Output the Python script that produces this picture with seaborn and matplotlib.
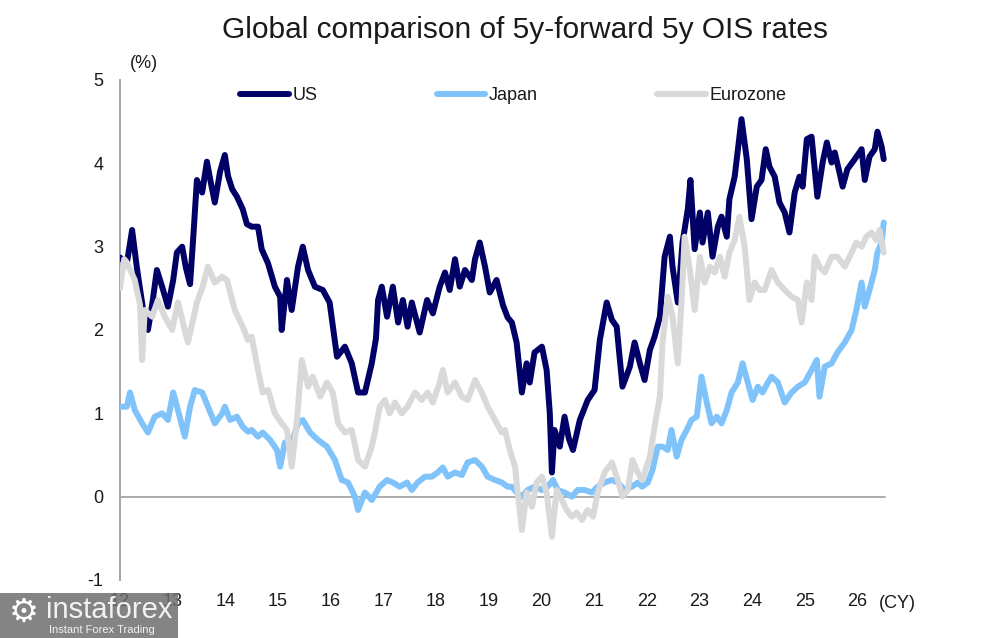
import matplotlib
matplotlib.use("Agg")
import matplotlib.pyplot as plt
import seaborn as sns
import pandas as pd
from matplotlib.patches import Rectangle

# ---------------- data ----------------
us_year = [2012.00, 2012.13, 2012.23, 2012.32, 2012.44, 2012.53, 2012.61, 2012.70, 2012.80, 2012.91,
           2013.01, 2013.08, 2013.18, 2013.25, 2013.33, 2013.40, 2013.46, 2013.56, 2013.65, 2013.73,
           2013.80, 2013.90, 2013.99, 2014.05, 2014.13, 2014.22, 2014.33, 2014.41, 2014.50, 2014.62,
           2014.69, 2014.81, 2014.94, 2015.04, 2015.07, 2015.17, 2015.26, 2015.38, 2015.47, 2015.57,
           2015.70, 2015.85, 2015.98, 2016.12, 2016.27, 2016.40, 2016.52, 2016.65, 2016.78, 2016.86,
           2016.90, 2016.97, 2017.07, 2017.18, 2017.28, 2017.37, 2017.46, 2017.54, 2017.69, 2017.83,
           2017.94, 2018.07, 2018.17, 2018.26, 2018.36, 2018.45, 2018.55, 2018.68, 2018.74, 2018.83,
           2018.93, 2019.02, 2019.15, 2019.27, 2019.36, 2019.44, 2019.53, 2019.63, 2019.72, 2019.78,
           2019.87, 2020.01, 2020.10, 2020.16, 2020.20, 2020.25, 2020.35, 2020.44, 2020.52, 2020.60,
           2020.73, 2020.88, 2021.01, 2021.11, 2021.24, 2021.34, 2021.43, 2021.54, 2021.68, 2021.77,
           2021.87, 2021.96, 2022.06, 2022.15, 2022.25, 2022.34, 2022.44, 2022.49, 2022.59, 2022.68,
           2022.78, 2022.83, 2022.91, 2023.01, 2023.06, 2023.16, 2023.25, 2023.35, 2023.42, 2023.52,
           2023.57, 2023.67, 2023.76, 2023.80, 2023.90, 2023.99, 2024.09, 2024.18, 2024.26, 2024.33,
           2024.43, 2024.52, 2024.62, 2024.71, 2024.81, 2024.90, 2024.96, 2025.04, 2025.13, 2025.19,
           2025.24, 2025.34, 2025.42, 2025.51, 2025.57, 2025.66, 2025.72, 2025.81, 2025.95, 2026.08,
           2026.14, 2026.23, 2026.33, 2026.38, 2026.46, 2026.50]
us_rate = [2.87, 2.80, 3.20, 2.75, 2.24, 2.00, 2.30, 2.72, 2.52, 2.28,
           2.60, 2.93, 3.00, 2.75, 2.55, 3.20, 3.80, 3.65, 4.02, 3.75,
           3.53, 3.90, 4.10, 3.85, 3.69, 3.60, 3.45, 3.27, 3.24, 3.24,
           2.97, 2.80, 2.52, 2.40, 2.00, 2.60, 2.24, 2.76, 3.00, 2.72,
           2.52, 2.48, 2.33, 1.68, 1.80, 1.60, 1.25, 1.25, 1.60, 1.90,
           2.36, 2.52, 2.16, 2.52, 2.09, 2.36, 2.04, 2.33, 1.97, 2.36,
           2.20, 2.52, 2.69, 2.48, 2.85, 2.52, 2.72, 2.60, 2.85, 3.05,
           2.76, 2.45, 2.60, 2.30, 2.15, 2.09, 1.85, 1.25, 1.60, 1.37,
           1.73, 1.80, 1.52, 1.00, 0.29, 0.80, 0.60, 0.96, 0.70, 0.56,
           0.92, 1.16, 1.28, 1.88, 2.33, 2.12, 2.04, 1.32, 1.56, 1.85,
           1.60, 1.40, 1.76, 1.92, 2.16, 2.88, 3.12, 2.76, 2.33, 3.05,
           3.45, 3.80, 2.97, 3.41, 3.05, 3.41, 2.88, 3.24, 3.36, 3.12,
           3.57, 3.84, 4.32, 4.53, 4.05, 3.33, 3.72, 3.80, 4.17, 3.96,
           3.84, 3.53, 3.41, 3.17, 3.65, 3.84, 3.72, 4.29, 4.32, 3.93,
           3.60, 4.01, 4.25, 4.01, 4.13, 3.89, 3.72, 3.93, 4.05, 4.17,
           3.80, 4.08, 4.17, 4.38, 4.20, 4.05]

jp_year = [2012.00, 2012.13, 2012.19, 2012.28, 2012.42, 2012.53, 2012.66, 2012.80, 2012.91, 2013.01,
           2013.10, 2013.23, 2013.33, 2013.42, 2013.56, 2013.67, 2013.80, 2013.94, 2013.99, 2014.09,
           2014.22, 2014.33, 2014.43, 2014.50, 2014.62, 2014.71, 2014.85, 2014.98, 2015.04, 2015.13,
           2015.26, 2015.38, 2015.47, 2015.61, 2015.76, 2015.93, 2016.08, 2016.21, 2016.33, 2016.46,
           2016.52, 2016.65, 2016.78, 2016.93, 2017.07, 2017.18, 2017.31, 2017.45, 2017.54, 2017.65,
           2017.79, 2017.92, 2018.03, 2018.13, 2018.22, 2018.36, 2018.49, 2018.60, 2018.74, 2018.87,
           2018.98, 2019.12, 2019.25, 2019.36, 2019.44, 2019.53, 2019.63, 2019.74, 2019.87, 2020.01,
           2020.12, 2020.22, 2020.31, 2020.44, 2020.58, 2020.69, 2020.82, 2020.96, 2021.07, 2021.20,
           2021.34, 2021.45, 2021.58, 2021.72, 2021.83, 2021.91, 2022.02, 2022.11, 2022.21, 2022.30,
           2022.40, 2022.47, 2022.57, 2022.66, 2022.76, 2022.85, 2022.95, 2023.04, 2023.14, 2023.23,
           2023.33, 2023.42, 2023.52, 2023.61, 2023.73, 2023.82, 2023.92, 2024.01, 2024.11, 2024.20,
           2024.30, 2024.37, 2024.49, 2024.62, 2024.75, 2024.87, 2025.00, 2025.13, 2025.23, 2025.28,
           2025.38, 2025.51, 2025.62, 2025.76, 2025.89, 2025.98, 2026.08, 2026.14, 2026.23, 2026.33,
           2026.38, 2026.46, 2026.50]
jp_rate = [1.08, 1.08, 1.25, 1.04, 0.88, 0.77, 0.96, 1.00, 0.92, 1.25,
           1.04, 0.72, 1.08, 1.28, 1.25, 1.08, 0.88, 1.00, 1.08, 0.92,
           0.96, 0.84, 0.78, 0.80, 0.72, 0.77, 0.68, 0.56, 0.36, 0.65,
           0.65, 0.88, 0.92, 0.77, 0.68, 0.60, 0.44, 0.20, 0.17, 0.00,
           -0.16, 0.05, -0.04, 0.12, 0.20, 0.17, 0.12, 0.17, 0.08, 0.17,
           0.24, 0.24, 0.29, 0.35, 0.24, 0.29, 0.26, 0.41, 0.44, 0.36,
           0.24, 0.20, 0.17, 0.12, 0.12, 0.05, 0.00, 0.08, 0.12, 0.08,
           0.12, 0.20, 0.08, 0.05, 0.00, 0.08, 0.08, 0.05, 0.12, 0.17,
           0.20, 0.17, 0.08, 0.12, 0.17, 0.12, 0.17, 0.32, 0.60, 0.60,
           0.56, 0.80, 0.48, 0.68, 0.80, 0.92, 0.96, 1.44, 1.13, 0.88,
           0.96, 0.88, 1.04, 1.25, 1.37, 1.60, 1.37, 1.16, 1.32, 1.25,
           1.37, 1.44, 1.37, 1.13, 1.25, 1.32, 1.37, 1.52, 1.64, 1.20,
           1.56, 1.60, 1.73, 1.85, 2.00, 2.24, 2.57, 2.28, 2.48, 2.72,
           2.93, 3.05, 3.29]

ez_year = [2012.00, 2012.08, 2012.13, 2012.28, 2012.38, 2012.42, 2012.47, 2012.61, 2012.72, 2012.85,
           2012.99, 2013.10, 2013.29, 2013.46, 2013.57, 2013.67, 2013.80, 2013.94, 2014.03, 2014.18,
           2014.33, 2014.43, 2014.50, 2014.62, 2014.71, 2014.81, 2014.94, 2015.07, 2015.17, 2015.26,
           2015.36, 2015.45, 2015.57, 2015.66, 2015.80, 2015.93, 2016.04, 2016.14, 2016.27, 2016.40,
           2016.52, 2016.65, 2016.78, 2016.84, 2016.93, 2017.03, 2017.12, 2017.22, 2017.35, 2017.46,
           2017.60, 2017.73, 2017.84, 2017.94, 2018.07, 2018.13, 2018.22, 2018.36, 2018.49, 2018.60,
           2018.74, 2018.87, 2018.98, 2019.12, 2019.25, 2019.31, 2019.40, 2019.50, 2019.55, 2019.63,
           2019.72, 2019.82, 2019.91, 2020.01, 2020.10, 2020.20, 2020.29, 2020.39, 2020.48, 2020.58,
           2020.67, 2020.77, 2020.88, 2020.98, 2021.07, 2021.20, 2021.34, 2021.45, 2021.54, 2021.64,
           2021.73, 2021.83, 2021.91, 2021.96, 2022.06, 2022.15, 2022.25, 2022.30, 2022.40, 2022.49,
           2022.59, 2022.66, 2022.72, 2022.82, 2022.91, 2023.01, 2023.10, 2023.20, 2023.29, 2023.39,
           2023.48, 2023.57, 2023.67, 2023.76, 2023.86, 2023.95, 2024.05, 2024.14, 2024.24, 2024.37,
           2024.49, 2024.62, 2024.75, 2024.87, 2024.94, 2025.04, 2025.13, 2025.19, 2025.28, 2025.38,
           2025.51, 2025.62, 2025.76, 2025.89, 2025.98, 2026.08, 2026.17, 2026.27, 2026.36, 2026.42,
           2026.50]
ez_rate = [2.50, 2.85, 2.81, 2.60, 2.30, 1.64, 2.24, 2.16, 2.36, 2.16,
           2.00, 2.33, 1.85, 2.33, 2.52, 2.76, 2.57, 2.64, 2.60, 2.24,
           2.04, 1.88, 1.92, 1.52, 1.25, 1.28, 1.00, 0.88, 0.80, 0.36,
           0.92, 1.64, 1.32, 1.44, 1.20, 1.37, 1.25, 0.88, 0.77, 0.80,
           0.44, 0.36, 0.60, 0.77, 1.08, 1.16, 1.00, 1.13, 1.00, 1.08,
           1.25, 1.16, 1.25, 1.13, 1.37, 1.52, 1.25, 1.37, 1.20, 1.16,
           1.40, 1.25, 1.08, 0.92, 0.77, 0.80, 0.56, 0.36, 0.05, -0.40,
           0.05, -0.12, 0.17, 0.24, 0.05, -0.48, 0.08, -0.04, -0.16, -0.24,
           -0.19, -0.28, -0.16, -0.24, 0.05, 0.29, 0.41, 0.20, 0.00, 0.08,
           0.44, 0.29, 0.20, 0.29, 0.48, 0.84, 1.20, 1.85, 2.40, 2.16,
           1.60, 2.33, 3.12, 2.72, 2.24, 2.88, 2.57, 2.76, 2.69, 2.88,
           2.64, 2.93, 3.08, 3.36, 3.00, 2.36, 2.57, 2.48, 2.48, 2.72,
           2.57, 2.48, 2.40, 2.36, 2.09, 2.57, 2.36, 2.88, 2.76, 2.69,
           2.88, 2.88, 2.76, 2.93, 3.05, 3.00, 3.12, 3.17, 3.08, 3.20,
           2.93]

series_names = ["US", "Japan", "Eurozone"]
year_ticks = list(range(2012, 2027))
year_labels = [str(y)[2:] for y in year_ticks]
y_ticks = [-1, 0, 1, 2, 3, 4, 5]

# ---------------- style ----------------
sns.set_style("white")
plt.rcParams['font.family'] = ['Liberation Sans', 'DejaVu Sans']

W, H = 1008, 638
fig = plt.figure(figsize=(W / 100, H / 100), dpi=100)
ax = fig.add_axes([120 / W, 58 / H, (889 - 120) / W, 500 / H])

colors = {"US": "#000066", "Japan": "#80c3fa", "Eurozone": "#d9d9d9"}
frames = {
    "US": pd.DataFrame({"year": us_year, "rate": us_rate}),
    "Japan": pd.DataFrame({"year": jp_year, "rate": jp_rate}),
    "Eurozone": pd.DataFrame({"year": ez_year, "rate": ez_rate}),
}

ax.axhline(0, xmin=0, xmax=(885 - 120) / (889 - 120), color="#a6a6a6", lw=1.3, zorder=1)
for i, name in enumerate(series_names):
    sns.lineplot(data=frames[name], x="year", y="rate", ax=ax, color=colors[name],
                 lw=4.3, label=name, zorder=3 + i, sort=False,
                 solid_joinstyle="round", solid_capstyle="round")

ax.set_xlim(2012, 2026.6)
ax.set_ylim(-1, 5)
ax.set_xticks(year_ticks)
ax.set_xticklabels(year_labels)
ax.set_yticks(y_ticks)
ax.set_yticklabels([str(v) for v in y_ticks])
ax.tick_params(axis="both", length=0, labelsize=13, colors="#1a1a1a")
ax.tick_params(axis="x", pad=9)
ax.tick_params(axis="y", pad=12)
ax.set_xlabel("")
ax.set_ylabel("")
for s in ["top", "right", "bottom"]:
    ax.spines[s].set_visible(False)
ax.spines["left"].set_color("#a6a6a6")
ax.spines["left"].set_linewidth(1.4)

leg = ax.legend(loc="center left", bbox_to_anchor=(240 / W, 1 - 96 / H),
                bbox_transform=fig.transFigure, ncol=3, frameon=False,
                fontsize=13, handlelength=2.7, handletextpad=0.2,
                columnspacing=6.6, borderpad=0, borderaxespad=0)
for t in leg.get_texts():
    t.set_color("#1a1a1a")

fig.text(525 / W, 1 - 30 / H, "Global comparison of 5y-forward 5y OIS rates",
         ha="center", va="center", fontsize=21.5, color="#1a1a1a")
fig.text(144 / W, 1 - 63 / H, "(%)", ha="center", va="center", fontsize=13, color="#1a1a1a")
fig.text(897 / W, 1 - 603 / H, "(CY)", ha="center", va="center", fontsize=13, color="#1a1a1a")

# watermark box
fig.patches.append(Rectangle((0, 0), 178 / W, 45 / H, transform=fig.transFigure,
                             facecolor="#6e6e6e", alpha=0.85, zorder=10, edgecolor="none"))
fig.text(24 / W, 1 - 612 / H, "\u2699", ha="center", va="center", fontsize=24,
         color="white", zorder=11, family=["DejaVu Sans"])
fig.text(46 / W, 1 - 610 / H, "instaforex", ha="left", va="center", fontsize=21,
         color="#f2f2f2", zorder=11)
fig.text(49 / W, 1 - 630 / H, "Instant Forex Trading", ha="left", va="center", fontsize=8,
         color="#f2f2f2", zorder=11)

fig.savefig("out.png", dpi=100)
